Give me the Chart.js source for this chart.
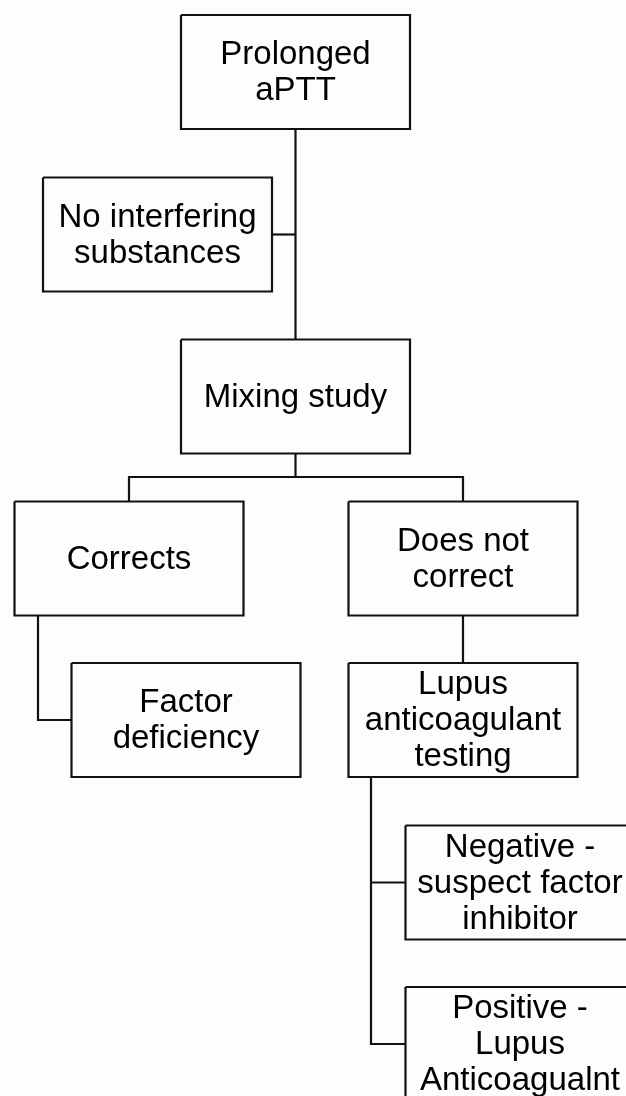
<!DOCTYPE html>
<html lang="en">
<head>
    <meta charset="UTF-8">
    <title>Prolonged aPTT workup</title>
    <script src="https://cdn.jsdelivr.net/npm/chart.js"></script>
    <style>
        body {
            margin: 0;
            padding: 0;
            background-color: #fdfdfd;
        }
        canvas {
            display: block;
        }
    </style>
</head>
<body>
    <canvas id="flowChart" width="626" height="1096"></canvas>

    <script>
        // Flowchart nodes (centre of each box, in diagram units)
        const nodeLabels = [
            'Prolonged\naPTT',
            'No interfering\nsubstances',
            'Mixing study',
            'Corrects',
            'Does not\ncorrect',
            'Factor\ndeficiency',
            'Lupus\nanticoagulant\ntesting',
            'Negative -\nsuspect factor\ninhibitor',
            'Positive -\nLupus\nAnticoagualnt'
        ];
        const nodeX = [295.5, 157.5, 295.5, 129, 463, 186, 463, 520, 520];
        const nodeY = [72, 234.5, 396.5, 558.5, 558.5, 720, 720, 882.5, 1044];

        // Connector paths, as lists of [x, y] points
        const connectors = [
            [[295.5, 129], [295.5, 339.5]],
            [[272, 234.5], [295.5, 234.5]],
            [[295.5, 453.5], [295.5, 477]],
            [[129, 501.5], [129, 477], [463, 477], [463, 501.5]],
            [[38, 615.5], [38, 720], [71.5, 720]],
            [[463, 615.5], [463, 663]],
            [[371, 777], [371, 1044], [405.5, 1044]],
            [[371, 882.5], [405.5, 882.5]]
        ];

        const BOX_W = 229;
        const BOX_H = 114;
        const LINE_H = 36;

        const datasets = [];
        nodeX.forEach((cx, i) => {
            const cy = nodeY[i];
            const l = cx - BOX_W / 2, r = cx + BOX_W / 2;
            const t = cy - BOX_H / 2, b = cy + BOX_H / 2;
            datasets.push({
                data: [{x: l, y: t}, {x: r, y: t}, {x: r, y: b}, {x: l, y: b}, {x: l, y: t}],
                borderColor: '#111',
                borderWidth: 2.2,
                pointRadius: 0,
                showLine: true,
                fill: false,
                tension: 0
            });
        });
        connectors.forEach(path => {
            datasets.push({
                data: path.map(p => ({x: p[0], y: p[1]})),
                borderColor: '#111',
                borderWidth: 2.2,
                pointRadius: 0,
                showLine: true,
                fill: false,
                tension: 0
            });
        });

        const background = {
            id: 'background',
            beforeDraw(chart) {
                const c = chart.ctx;
                c.save();
                c.fillStyle = '#fdfdfd';
                c.fillRect(0, 0, chart.width, chart.height);
                c.restore();
            }
        };

        const boxText = {
            id: 'boxText',
            afterDatasetsDraw(chart) {
                const c = chart.ctx;
                const xs = chart.scales.x, ys = chart.scales.y;
                c.save();
                c.fillStyle = '#000';
                c.font = '33px "Liberation Sans", Arial, sans-serif';
                c.textAlign = 'center';
                c.textBaseline = 'middle';
                nodeLabels.forEach((label, i) => {
                    const lines = label.split('\n');
                    const px = xs.getPixelForValue(nodeX[i]);
                    const py = ys.getPixelForValue(nodeY[i]);
                    lines.forEach((ln, k) => {
                        const off = (k - (lines.length - 1) / 2) * LINE_H;
                        c.fillText(ln, px, py + off + 1);
                    });
                });
                c.restore();
            }
        };

        new Chart(document.getElementById('flowChart'), {
            type: 'scatter',
            data: { datasets: datasets },
            options: {
                responsive: false,
                animation: false,
                devicePixelRatio: 1,
                layout: { padding: 0 },
                plugins: {
                    legend: { display: false },
                    tooltip: { enabled: false }
                },
                scales: {
                    x: { type: 'linear', min: 0, max: 626, display: false },
                    y: { type: 'linear', min: 0, max: 1096, reverse: true, display: false }
                }
            },
            plugins: [background, boxText]
        });
    </script>
</body>
</html>
